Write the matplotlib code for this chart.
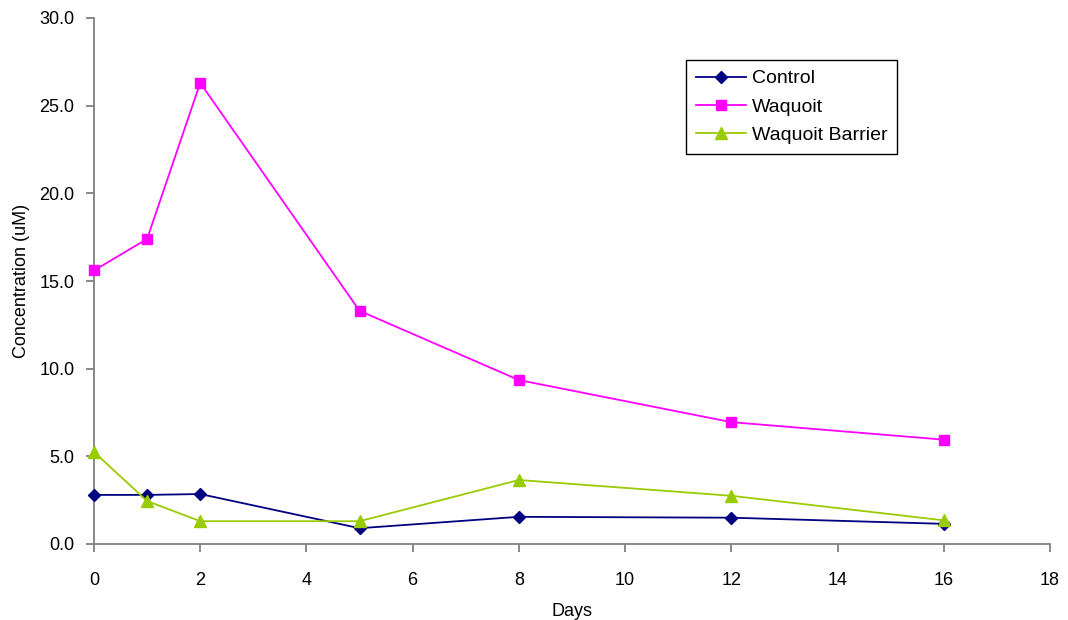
import matplotlib
matplotlib.use("Agg")
import matplotlib.pyplot as plt

# values
days = [0, 1, 2, 5, 8, 12, 16]
control = [2.8, 2.8, 2.85, 0.9, 1.55, 1.5, 1.15]
waquoit = [15.6, 17.4, 26.3, 13.3, 9.35, 6.95, 5.95]
barrier = [5.25, 2.45, 1.3, 1.3, 3.65, 2.75, 1.35]

plt.rcParams['font.family'] = ['Liberation Sans', 'DejaVu Sans']
plt.rcParams['font.size'] = 13

fig = plt.figure(figsize=(10.68, 6.2), dpi=100)
ax = fig.add_axes([94 / 1068, 76 / 620, 956 / 1068, 526 / 620])

ax.plot(days, control, color='#000080', marker='D', markersize=6, lw=1.3, label='Control', clip_on=False, zorder=3)
ax.plot(days, waquoit, color='#ff00ff', marker='s', markersize=7, lw=1.3, label='Waquoit', clip_on=False, zorder=3)
ax.plot(days, barrier, color='#99cc00', marker='^', markersize=8, lw=1.3, label='Waquoit Barrier', clip_on=False, zorder=3)

ax.set_xlim(0, 18)
ax.set_ylim(0, 30)
ax.set_xticks(range(0, 19, 2))
ax.set_yticks(range(0, 31, 5))
ax.set_yticklabels(['%.1f' % v for v in range(0, 31, 5)])
ax.set_xlabel('Days', labelpad=10)
ax.set_ylabel('Concentration (uM)', labelpad=7)

for s in ['top', 'right']:
    ax.spines[s].set_visible(False)
for s in ['left', 'bottom']:
    ax.spines[s].set_color('#808080')
    ax.spines[s].set_linewidth(1.3)
ax.tick_params(color='#808080', width=1.3, length=6)
ax.tick_params(axis='x', pad=14)
ax.tick_params(axis='y', pad=8)

leg = ax.legend(loc='upper left', bbox_to_anchor=(686 / 1068, 1 - 60 / 620),
                bbox_transform=fig.transFigure, fancybox=False, fontsize=14,
                edgecolor='black', framealpha=1, borderpad=0.5, borderaxespad=0,
                handlelength=2.6, handletextpad=0.3, labelspacing=0.55)
leg.get_frame().set_linewidth(1.0)

fig.savefig('out.png', dpi=100)
